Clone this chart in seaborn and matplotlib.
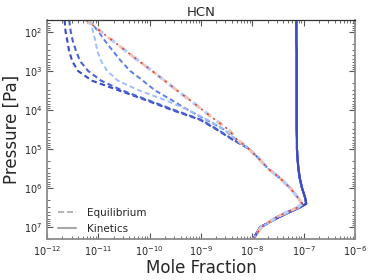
import matplotlib
matplotlib.use("Agg")
import matplotlib.pyplot as plt
from matplotlib.lines import Line2D
import seaborn as sns

# pressure levels [Pa], shared by every profile
pressure = [50, 1e2, 1.78e2, 3.16e2, 5.62e2, 1e3, 1.78e3, 3.16e3, 5.62e3, 1e4,
            1.78e4, 3.16e4, 5.62e4, 1e5, 1.78e5, 3.16e5, 5.62e5, 1e6, 1.78e6,
            2.5e6, 3.16e6, 4e6, 5.62e6, 1e7, 2e7]

# equilibrium profiles (mole fraction)
eq_dark_a = [2.2e-12, 2.3e-12, 2.5e-12, 2.7e-12, 3.1e-12, 4.0e-12, 7.5e-12, 2.5e-11,
             8.5e-11, 2.7e-10, 9.6e-10, 2.0e-9, 4.0e-9,
             8.9e-9, 1.35e-8, 2.03e-8, 3.5e-8, 5.5e-8, 7.8e-8, 9.3e-8, 7.5e-8,
             5.0e-8, 2.9e-8, 1.49e-8, 1.04e-8]
eq_dark_b = [2.7e-12, 2.9e-12, 3.2e-12, 3.7e-12, 4.4e-12, 6.3e-12, 1.13e-11, 2.9e-11,
             9.3e-11, 3.0e-10, 1.0e-9, 2.1e-9, 4.1e-9,
             8.9e-9, 1.35e-8, 2.03e-8, 3.5e-8, 5.5e-8, 7.8e-8, 9.3e-8, 7.5e-8,
             5.0e-8, 2.9e-8, 1.49e-8, 1.04e-8]
eq_medium = [6.6e-12, 1.01e-11, 1.38e-11, 1.94e-11, 2.77e-11, 4.15e-11, 7.4e-11, 1.27e-10,
             2.7e-10, 5.6e-10, 1.26e-9, 2.8e-9, 4.8e-9,
             8.6e-9, 1.35e-8, 2.03e-8, 3.5e-8, 5.5e-8, 7.8e-8, 9.3e-8, 7.5e-8,
             5.0e-8, 2.9e-8, 1.49e-8, 1.04e-8]
eq_light = [6.9e-12, 7.9e-12, 8.8e-12, 9.6e-12, 1.13e-11, 1.48e-11, 2.4e-11, 6.2e-11,
            2.0e-10, 5.6e-10, 1.32e-9, 2.8e-9, 4.8e-9,
            8.6e-9, 1.35e-8, 2.03e-8, 3.5e-8, 5.5e-8, 7.8e-8, 9.3e-8, 7.5e-8,
            5.0e-8, 2.9e-8, 1.49e-8, 1.04e-8]
eq_diagonal = [5.8e-12, 1.13e-11, 2.0e-11, 3.5e-11, 6.2e-11, 1.11e-10, 1.95e-10, 3.4e-10,
               6.1e-10, 1.07e-9, 1.88e-9, 3.4e-9, 5.0e-9,
               8.6e-9, 1.35e-8, 2.03e-8, 3.5e-8, 5.5e-8, 7.8e-8, 9.3e-8, 7.5e-8,
               5.0e-8, 2.9e-8, 1.49e-8, 1.04e-8]

# kinetics profile (all runs overlap)
kinetics = [7.2e-8, 7.2e-8, 7.2e-8, 7.3e-8, 7.3e-8, 7.3e-8, 7.3e-8, 7.3e-8, 7.3e-8,
            7.3e-8, 7.3e-8, 7.3e-8, 7.4e-8, 7.4e-8, 7.6e-8, 7.9e-8, 8.4e-8, 9.3e-8,
            1.07e-7, 1.12e-7, 8.2e-8, 5.5e-8, 3.2e-8, 1.42e-8, 1.04e-8]

sns.set_style("ticks")
plt.rcParams["font.family"] = ["DejaVu Sans"]

fig = plt.figure(figsize=(3.74, 2.8), dpi=100)
ax = fig.add_axes([0.1257, 0.1464, 0.8235, 0.7822])
ax.set_xscale("log")
ax.set_yscale("log")

dash = (0, (2.6, 1.6))

# kinetics, drawn first so the blues end up on top
for col in ["#d65244", "#9ebeff", "#6282ea", "#4a63d3", "#3b4cc0"]:
    sns.lineplot(x=kinetics, y=pressure, sort=False, estimator=None,
                 color=col, lw=1.5, ax=ax)

# equilibrium
sns.lineplot(x=eq_dark_a, y=pressure, sort=False, estimator=None,
             color="#3b4cc0", lw=1.5, linestyle=dash, ax=ax)
sns.lineplot(x=eq_dark_b, y=pressure, sort=False, estimator=None,
             color="#4a63d3", lw=1.5, linestyle=dash, ax=ax)
sns.lineplot(x=eq_medium, y=pressure, sort=False, estimator=None,
             color="#5b7de6", lw=1.4, linestyle=dash, ax=ax)
sns.lineplot(x=eq_light, y=pressure, sort=False, estimator=None,
             color="#9ebeff", lw=1.4, linestyle=dash, ax=ax)
sns.lineplot(x=eq_diagonal, y=pressure, sort=False, estimator=None,
             color="#b9cff7", lw=2.4, linestyle=(0, (2, 2.5)), ax=ax)
sns.lineplot(x=eq_diagonal, y=pressure, sort=False, estimator=None,
             color="#f3c2ab", lw=2.0, linestyle=(0, (2, 3)), ax=ax)
sns.lineplot(x=eq_diagonal, y=pressure, sort=False, estimator=None,
             color="#d9453a", lw=1.1, linestyle=(0, (1.5, 3.5)), ax=ax)

ax.set_xlim(1e-12, 1e-6)
ax.set_ylim(2e7, 50)

ax.set_title("HCN", fontsize=9.5, pad=3)
ax.set_xlabel("Mole Fraction", fontsize=12, labelpad=1)
ax.set_ylabel("Pressure [Pa]", fontsize=12)
ax.yaxis.set_label_coords(-0.085, 0.5)

ax.tick_params(which="both", direction="in", top=True, right=True,
               color="#555555", labelsize=7)
ax.tick_params(which="major", length=4, width=0.8)
ax.tick_params(which="minor", length=2, width=0.6)
for side in ["left", "bottom", "right"]:
    ax.spines[side].set_color("#8c8c8c")
    ax.spines[side].set_linewidth(1.3)
ax.spines["top"].set_color("#333333")
ax.spines["top"].set_linewidth(0.9)

handles = [Line2D([], [], color="#a8a8a8", lw=1.2, ls="--", label="Equilibrium"),
           Line2D([], [], color="#a8a8a8", lw=1.5, ls="-", label="Kinetics")]
ax.legend(handles=handles, loc="lower left", frameon=False, fontsize=7.5,
          handlelength=1.7, handletextpad=1.0, borderaxespad=0.2,
          labelspacing=0.55, borderpad=0.3, bbox_to_anchor=(0.02, 0.0))

fig.savefig("out.png", dpi=100)
